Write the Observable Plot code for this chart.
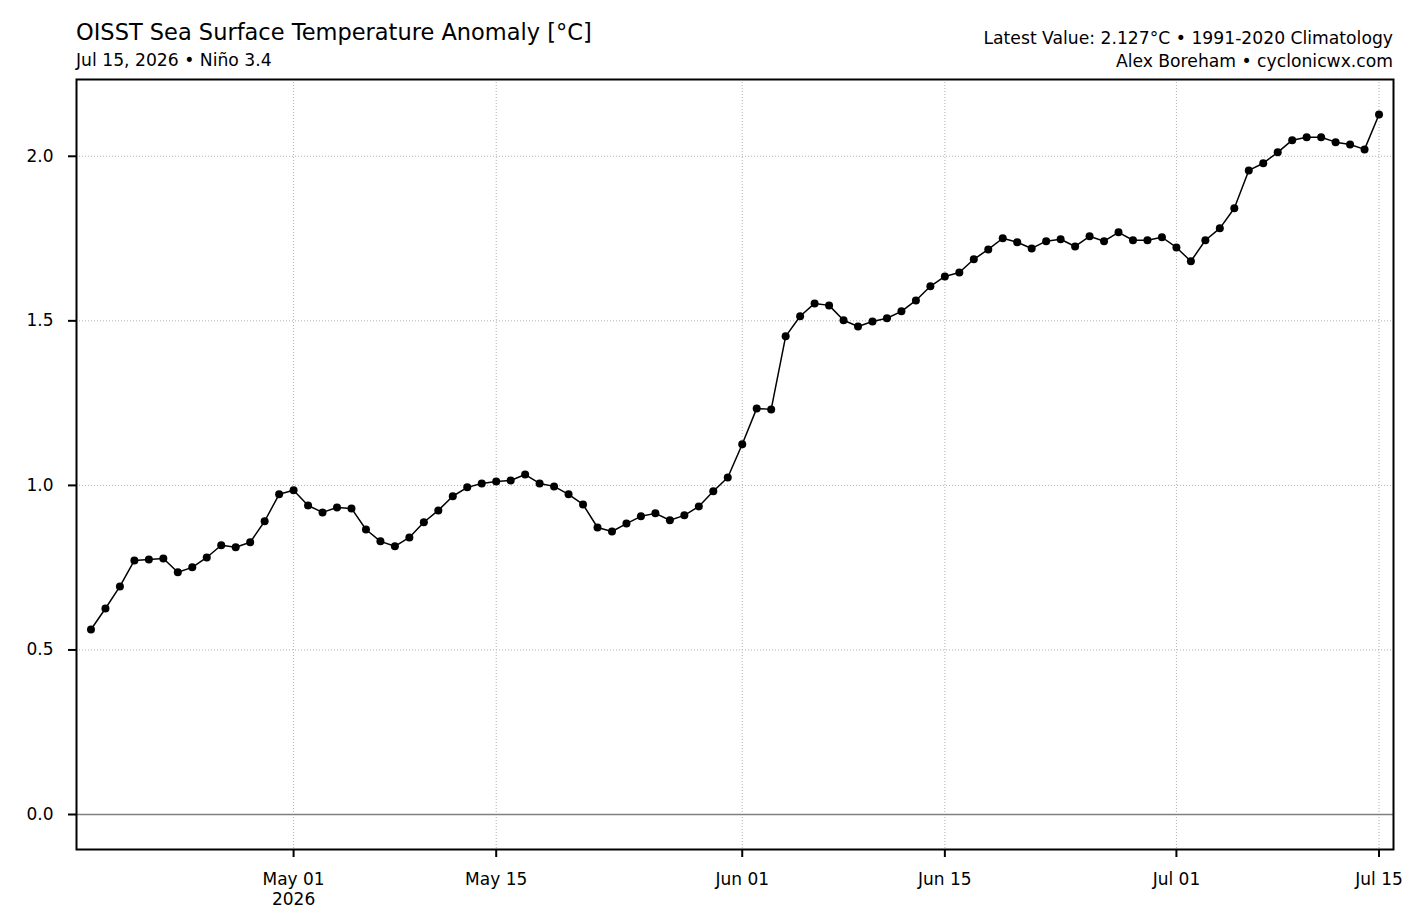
<!DOCTYPE html>
<html>
<head>
<meta charset="utf-8">
<script src="https://cdn.jsdelivr.net/npm/d3@7"></script>
<script src="https://cdn.jsdelivr.net/npm/@observablehq/plot@0.6"></script>
<style>
  body { margin: 0; background: #fff; font-family: "DejaVu Sans", sans-serif; }
  #wrap { position: relative; width: 1417px; height: 916px; }
  .t { position: absolute; white-space: nowrap; color: #000; line-height: 1; }
  #chart { position: absolute; left: 0; top: 0; }
</style>
</head>
<body>
<div id="wrap">
  <div id="chart"></div>
  <div class="t" style="left:76px; top:21px; font-size:22.5px;">OISST Sea Surface Temperature Anomaly [°C]</div>
  <div class="t" style="left:76px; top:52px; font-size:17.2px;">Jul 15, 2026 • Niño 3.4</div>
  <div class="t" style="right:24px; top:30px; font-size:17.2px; text-align:right;">Latest Value: 2.127°C • 1991-2020 Climatology</div>
  <div class="t" style="right:24px; top:53px; font-size:17.2px; text-align:right;">Alex Boreham • cyclonicwx.com</div>
</div>
<script>
// Daily Niño 3.4 OISST anomaly (°C), Apr 17 – Jul 15, 2026
const dates = [
  "2026-04-17","2026-04-18","2026-04-19","2026-04-20","2026-04-21","2026-04-22","2026-04-23","2026-04-24",
  "2026-04-25","2026-04-26","2026-04-27","2026-04-28","2026-04-29","2026-04-30",
  "2026-05-01","2026-05-02","2026-05-03","2026-05-04","2026-05-05","2026-05-06","2026-05-07","2026-05-08",
  "2026-05-09","2026-05-10","2026-05-11","2026-05-12","2026-05-13","2026-05-14","2026-05-15","2026-05-16",
  "2026-05-17","2026-05-18","2026-05-19","2026-05-20","2026-05-21","2026-05-22","2026-05-23","2026-05-24",
  "2026-05-25","2026-05-26","2026-05-27","2026-05-28","2026-05-29","2026-05-30","2026-05-31",
  "2026-06-01","2026-06-02","2026-06-03","2026-06-04","2026-06-05","2026-06-06","2026-06-07","2026-06-08",
  "2026-06-09","2026-06-10","2026-06-11","2026-06-12","2026-06-13","2026-06-14","2026-06-15","2026-06-16",
  "2026-06-17","2026-06-18","2026-06-19","2026-06-20","2026-06-21","2026-06-22","2026-06-23","2026-06-24",
  "2026-06-25","2026-06-26","2026-06-27","2026-06-28","2026-06-29","2026-06-30",
  "2026-07-01","2026-07-02","2026-07-03","2026-07-04","2026-07-05","2026-07-06","2026-07-07","2026-07-08",
  "2026-07-09","2026-07-10","2026-07-11","2026-07-12","2026-07-13","2026-07-14","2026-07-15"
];
const anomaly = [
  0.562, 0.626, 0.693, 0.772, 0.775, 0.778, 0.736, 0.751,
  0.781, 0.818, 0.812, 0.827, 0.891, 0.973,
  0.985, 0.939, 0.918, 0.933, 0.930, 0.866, 0.830, 0.815,
  0.842, 0.888, 0.924, 0.967, 0.994, 1.006, 1.012, 1.015,
  1.033, 1.006, 0.997, 0.973, 0.942, 0.872, 0.860, 0.884,
  0.906, 0.915, 0.894, 0.909, 0.936, 0.982, 1.024,
  1.125, 1.234, 1.231, 1.453, 1.514, 1.553, 1.547, 1.502,
  1.483, 1.498, 1.508, 1.529, 1.562, 1.605, 1.635, 1.647,
  1.687, 1.717, 1.751, 1.739, 1.720, 1.742, 1.748, 1.726,
  1.757, 1.742, 1.769, 1.745, 1.745, 1.754,
  1.723, 1.681, 1.745, 1.781, 1.842, 1.957, 1.979, 2.012,
  2.049, 2.058, 2.058, 2.043, 2.036, 2.021, 2.127
];

// Axis ticks
const xTickDates = ["2026-05-01","2026-05-15","2026-06-01","2026-06-15","2026-07-01","2026-07-15"];
const xTickLabels = ["May 01\n2026","May 15","Jun 01","Jun 15","Jul 01","Jul 15"];
const yTicks = [0, 0.5, 1.0, 1.5, 2.0];
const yTickLabels = ["0.0","0.5","1.0","1.5","2.0"];

const toDate = s => new Date(s + "T00:00:00Z");
const series = dates.map((d, i) => ({date: toDate(d), value: anomaly[i]}));
const xTicks = xTickDates.map(toDate);
const xLabelOf = new Map(xTicks.map((d, i) => [+d, xTickLabels[i]]));
const yLabelOf = new Map(yTicks.map((v, i) => [v, yTickLabels[i]]));

// Data extent padded by 5% of the [0, max] span
const yMax = d3.max(anomaly);
const pad = 0.05 * yMax;

const chart = Plot.plot({
  width: 1417,
  height: 916,
  marginTop: 79,
  marginLeft: 76,
  marginRight: 24,
  marginBottom: 67,
  style: {fontFamily: "DejaVu Sans, sans-serif", fontSize: "17px", color: "#000", background: "#fff"},
  x: {type: "utc", domain: [toDate("2026-04-16"), toDate("2026-07-16")]},
  y: {domain: [-pad, yMax + pad]},
  marks: [
    Plot.gridX(xTicks, {stroke: "#b0b0b0", strokeOpacity: 1, strokeWidth: 1, strokeDasharray: "1,2"}),
    Plot.gridY(yTicks.filter(v => v !== 0), {stroke: "#b0b0b0", strokeOpacity: 1, strokeWidth: 1, strokeDasharray: "1,2"}),
    Plot.ruleY([0], {stroke: "#808080", strokeWidth: 1.5}),
    Plot.line(series, {x: "date", y: "value", stroke: "#000", strokeWidth: 1.5}),
    Plot.dot(series, {x: "date", y: "value", r: 4, fill: "#000", stroke: "none"}),
    Plot.frame({stroke: "#000", strokeWidth: 2}),
    Plot.axisX(xTicks, {
      tickSize: 8, tickPadding: 13, strokeWidth: 2, fontSize: 17, lineHeight: 1.2,
      tickFormat: d => xLabelOf.get(+d), label: null
    }),
    Plot.axisY(yTicks, {
      tickSize: 8, tickPadding: 15, strokeWidth: 2, fontSize: 17,
      tickFormat: v => yLabelOf.get(v), label: null
    })
  ]
});
document.getElementById("chart").append(chart);
</script>
</body>
</html>
